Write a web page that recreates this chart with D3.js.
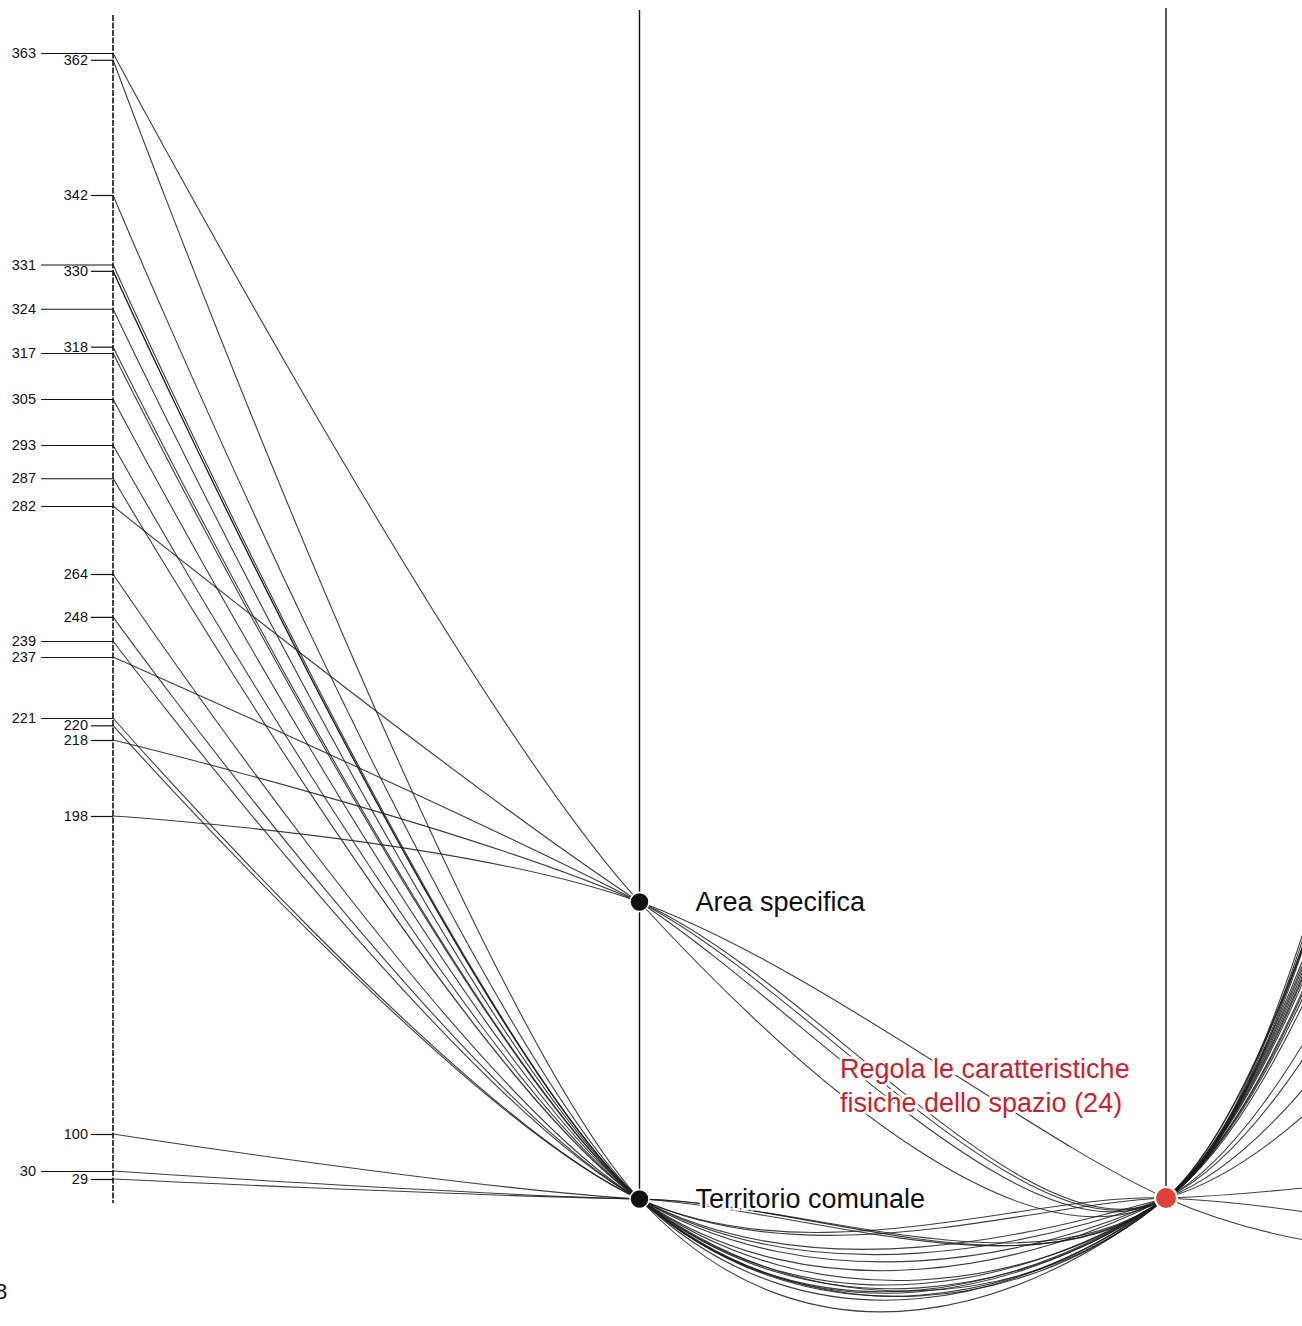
<!DOCTYPE html>
<html>
<head>
<meta charset="utf-8">
<script src="https://cdn.jsdelivr.net/npm/d3@7"></script>
<style>
  body { margin: 0; background: #fff; }
  svg { display: block; }
  text { font-family: "Liberation Sans", Arial, sans-serif; }
</style>
</head>
<body>
<div class="container"></div>
<script>
var width = 1302,
    height = 1326;

// codici sull'asse di sinistra
var tickCodes = [363, 362, 342, 331, 330, 324, 318, 317, 305, 293, 287, 282, 264, 248, 239, 237, 221, 220, 218, 198, 100, 30, 29];
// codici con etichetta spostata a sinistra (tacca lunga)
var outerCodes = [363, 331, 324, 317, 305, 293, 287, 282, 239, 237, 221, 30];

var levels = ['Area specifica', 'Territorio comunale'];
var rule = 'Regola le caratteristiche fisiche dello spazio (24)';

// one entry per line: left code, level reached, code on the next (cropped) axis
var lineCodes = [363, 362, 342, 331, 330, 330, 324, 318, 317, 305, 293, 287, 282, 264, 248, 239, 237, 221, 220, 218, 198, 100, 30, 29];
var lineLevels = ['Area specifica', 'Territorio comunale', 'Territorio comunale', 'Territorio comunale',
    'Territorio comunale', 'Territorio comunale', 'Territorio comunale', 'Territorio comunale',
    'Territorio comunale', 'Territorio comunale', 'Territorio comunale', 'Territorio comunale',
    'Area specifica', 'Territorio comunale', 'Territorio comunale', 'Territorio comunale',
    'Area specifica', 'Territorio comunale', 'Territorio comunale', 'Area specifica',
    'Area specifica', 'Territorio comunale', 'Territorio comunale', 'Territorio comunale'];
var exitCodes = [297, 268, 254, 239, 262, 236, 276, 247, 231, 278, 238, 206, 293, 195, 170, 148, 290, 30, 22, 288, 20, 258, 251, 265];

// the code axis is drawn with uneven spacing (broken scale)
var breakCodes = [363, 342, 317, 293, 282, 264, 239, 237, 221, 218, 198, 100, 30, 29];
var breakY = [53, 195, 353, 445, 506, 574, 641, 657, 718, 740, 816, 1134, 1171, 1179];

var svg = d3.select('.container')
    .append('svg')
    .attr('width', width)
    .attr('height', height);

var x = d3.scalePoint()
    .domain(['codice', 'ambito', 'regola'])
    .range([113, 1166]);
// the next axis lies outside the page
var xNext = x('regola') + x.step() / 2;

var yCode = d3.scaleLinear()
    .domain(breakCodes)
    .range(breakY);

var yLevel = d3.scalePoint()
    .domain(levels)
    .range([902, 1199]);

var yRule = yLevel('Territorio comunale') - 1;

var line = d3.line()
    .curve(d3.curveCatmullRom.alpha(0));

var rows = lineCodes.map(function(c, i) {
    return [
        [x('codice'), yCode(c)],
        [x('ambito'), yLevel(lineLevels[i])],
        [x('regola'), yRule],
        [xNext, yCode(exitCodes[i])]
    ];
});

svg.append('g')
    .selectAll('path')
    .data(rows)
    .enter()
    .append('path')
    .attr('d', line)
    .attr('fill', 'none')
    .attr('stroke', '#1c1c1c')
    .attr('stroke-width', 1.1)
    .attr('stroke-opacity', 0.85);

// vertical axes
svg.append('line')
    .attr('x1', x('codice')).attr('x2', x('codice'))
    .attr('y1', 15).attr('y2', 1203)
    .attr('stroke', '#111').attr('stroke-width', 1.6)
    .attr('stroke-dasharray', '6,1.5');

svg.append('line')
    .attr('x1', x('ambito')).attr('x2', x('ambito'))
    .attr('y1', 10).attr('y2', yLevel('Territorio comunale'))
    .attr('stroke', '#111').attr('stroke-width', 1.4);

svg.append('line')
    .attr('x1', x('regola')).attr('x2', x('regola'))
    .attr('y1', 8).attr('y2', yRule)
    .attr('stroke', '#111').attr('stroke-width', 1.4);

// tick labels, in two columns
var outerAxis = d3.axisLeft(yCode)
    .tickValues(outerCodes)
    .tickSize(72)
    .tickPadding(5)
    .tickFormat(d3.format('d'));

var innerAxis = d3.axisLeft(yCode)
    .tickValues(tickCodes.filter(function(c) { return outerCodes.indexOf(c) < 0; }))
    .tickSize(22)
    .tickPadding(3)
    .tickFormat(d3.format('d'));

[outerAxis, innerAxis].forEach(function(ax) {
    var g = svg.append('g')
        .attr('transform', 'translate(' + x('codice') + ',0)')
        .call(ax);
    g.select('.domain').remove();
    g.selectAll('line').attr('stroke', '#111').attr('stroke-width', 1.2);
    g.selectAll('text')
        .attr('font-size', 14.5)
        .attr('fill', '#111')
        .attr('font-family', '"Liberation Sans", Arial, sans-serif');
});

// nodes
svg.selectAll('circle.level')
    .data(levels)
    .enter()
    .append('circle')
    .attr('class', 'level')
    .attr('cx', x('ambito'))
    .attr('cy', function(d) { return yLevel(d); })
    .attr('r', 9.5)
    .attr('fill', '#111')
    .attr('stroke', '#fff')
    .attr('stroke-width', 1.5);

svg.append('circle')
    .attr('cx', x('regola'))
    .attr('cy', yRule)
    .attr('r', 11)
    .attr('fill', '#e2403a')
    .attr('stroke', '#fff')
    .attr('stroke-width', 2);

svg.selectAll('text.level')
    .data(levels)
    .enter()
    .append('text')
    .attr('class', 'level')
    .attr('x', x('ambito') + 56)
    .attr('y', function(d) { return yLevel(d); })
    .attr('dy', '0.35em')
    .attr('font-size', 27)
    .attr('fill', '#111')
    .attr('stroke', '#fff')
    .attr('stroke-width', 5)
    .attr('paint-order', 'stroke')
    .text(function(d) { return d; });

var ruleText = svg.append('text')
    .attr('x', 840)
    .attr('y', 1069)
    .attr('dy', '0.35em')
    .attr('font-size', 27)
    .attr('fill', '#cc1f2e')
    .attr('stroke', '#fff')
    .attr('stroke-width', 5)
    .attr('paint-order', 'stroke');

ruleText.append('tspan')
    .attr('x', 840)
    .text('Regola le caratteristiche');
ruleText.append('tspan')
    .attr('x', 840)
    .attr('dy', 34)
    .text('fisiche dello spazio (24)');

// page number
svg.append('text')
    .attr('x', -5)
    .attr('y', 1299)
    .attr('font-size', 22)
    .attr('fill', '#111')
    .text('8');
</script>
</body>
</html>
